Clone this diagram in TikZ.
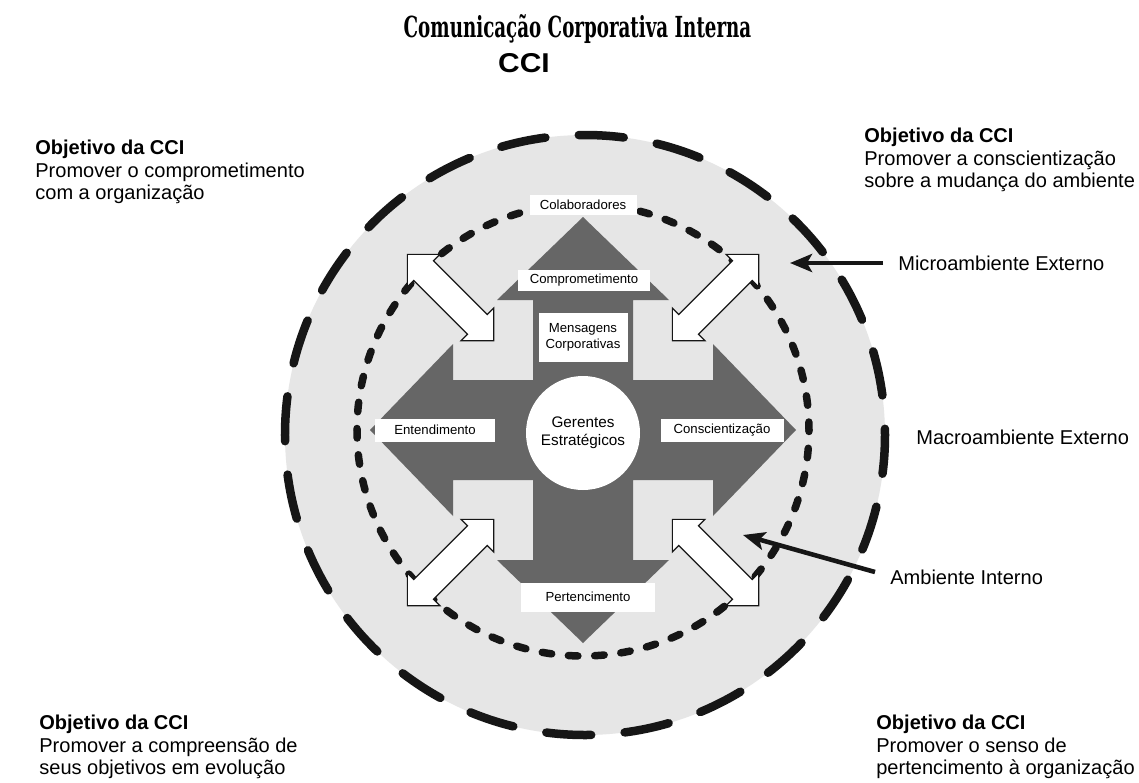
\documentclass[tikz,border=0pt]{standalone}
\usepackage{fontspec}
\setmainfont{Liberation Sans}
\newfontfamily\titlefont{DejaVu Serif}
\usetikzlibrary{arrows.meta, positioning}
\definecolor{paper}{HTML}{FFFFFF}
\definecolor{ring}{HTML}{E6E6E6}
\definecolor{crossg}{HTML}{666666}
\definecolor{ink}{HTML}{161616}
\tikzset{
  tag/.style={fill=white, inner sep=0pt, align=center, font=\fontsize{7.5}{9}\selectfont},
  side/.style={anchor=west, inner xsep=0.3cm, inner ysep=0pt, font=\fontsize{11.4}{13}\selectfont},
  goal/.style={anchor=north west, inner sep=0pt, align=left, font=\fontsize{11.4}{12.6}\selectfont},
  ptr/.style={ink, line width=2.6pt, -{Stealth[length=0.44cm, width=0.36cm, inset=0.1cm]}},
  dbl/.style={fill=white, draw=ink, line width=0.7pt, line join=miter}
}

\begin{document}
\begin{tikzpicture}
  \fill[paper] (-11.66,-7.04) rectangle (11.12,8.6);
  \useasboundingbox (-11.66,-7.04) rectangle (11.12,8.6);
  % rings
  \draw[ink, fill=ring, line width=0.17cm, line cap=round, dash pattern=on 0.9cm off 0.671cm, dash phase=0.776cm] (0.04,-0.1) circle (6);
  \draw[ink, line width=0.15cm, line cap=round, dash pattern=on 0.19cm off 0.336cm, dash phase=0.03cm] (0,0) circle (4.52);
  % four way arrow
  \def\armw{1.0}\def\headb{2.6}\def\headw{1.72}\def\tipd{4.26}
  \fill[crossg] (0,\tipd)--(\headw,\headb)--(\armw,\headb)--(\armw,\armw)--(\headb,\armw)--(\headb,\headw)--(\tipd,0)--(\headb,-\headw)--(\headb,-\armw)--(\armw,-\armw)--(\armw,-\headb)--(\headw,-\headb)--(0,-\tipd)--(-\headw,-\headb)--(-\armw,-\headb)--(-\armw,-\armw)--(-\headb,-\armw)--(-\headb,-\headw)--(-\tipd,0)--(-\headb,\headw)--(-\headb,\armw)--(-\armw,\armw)--(-\armw,\headb)--(-\headw,\headb)--cycle;
  \foreach \dx/\dy/\rot in {-2.65/2.65/-45, 2.65/2.65/45, -2.65/-2.65/45, 2.65/-2.65/-45}{
    \draw[dbl, shift={(\dx,\dy)}, rotate=\rot] (-1.22,0)--(-0.76,0.46)--(-0.76,0.28)--(0.76,0.28)--(0.76,0.46)--(1.22,0)--(0.76,-0.46)--(0.76,-0.28)--(-0.76,-0.28)--(-0.76,-0.46)--cycle;}
  % labels on the arrow
  \node[tag, minimum width=2.14cm, minimum height=0.4cm] (colab) at (0,4.5) {Colaboradores};
  \node[tag, minimum width=2.64cm, minimum height=0.42cm] (compr) at (0.02,3.0) {Comprometimento};
  \node[tag, minimum width=1.78cm, minimum height=0.98cm] (msg) at (0,1.85) {Mensagens\\Corporativas};
  \node[tag, minimum width=2.4cm, minimum height=0.46cm] (entend) at (-2.96,0) {Entendimento};
  \node[tag, minimum width=2.46cm, minimum height=0.46cm] (consc) at (2.78,0) {Conscientização};
  \node[tag, minimum width=2.68cm, minimum height=0.58cm] (pert) at (0.1,-3.34) {Pertencimento};
  \node[circle, fill=white, minimum size=2.28cm, inner sep=0pt, align=center, font=\fontsize{8.7}{10.2}\selectfont] (ger) at (0,-0.06) {Gerentes\\Estratégicos};
  % environments
  \node[side] (micro) at (6.0,3.34) {Microambiente Externo};
  \node[side] (macro) at (6.36,-0.14) {Macroambiente Externo};
  \node[side] (ambint) at (5.84,-2.94) {Ambiente Interno};
  \coordinate (microtip) at (4.14,3.34);
  \coordinate (ambtip) at (3.2,-2.1);
  \draw[ptr] (micro.west) -- (microtip);
  \draw[ptr] ([yshift=0.1cm]ambint.west) -- (ambtip);
  % goals in the corners
  \node[goal] (goalnw) at (-10.96,5.8) {\textbf{Objetivo da CCI}\\Promover o comprometimento\\com a organização};
  \node[goal] (goalne) at (5.62,6.04) {\textbf{Objetivo da CCI}\\Promover a conscientização\\sobre a mudança do ambiente};
  \node[goal] (goalsw) at (-10.88,-5.7) {\textbf{Objetivo da CCI}\\Promover a compreensão de\\seus objetivos em evolução};
  \node[goal] (goalse) at (5.86,-5.7) {\textbf{Objetivo da CCI}\\Promover o senso de\\pertencimento à organização};
  % heading
  \node[anchor=base, inner sep=0pt] (title) at (-0.11,7.84) {\titlefont\bfseries\fontsize{16.5}{18}\selectfont\scalebox{0.63}[1]{Comunicação Corporativa Interna}};
  \node[anchor=base, inner sep=0pt] (cci) at (-1.18,7.16) {\bfseries\fontsize{15.5}{17}\selectfont\scalebox{1.1}[1]{CCI}};
\end{tikzpicture}
\end{document}
